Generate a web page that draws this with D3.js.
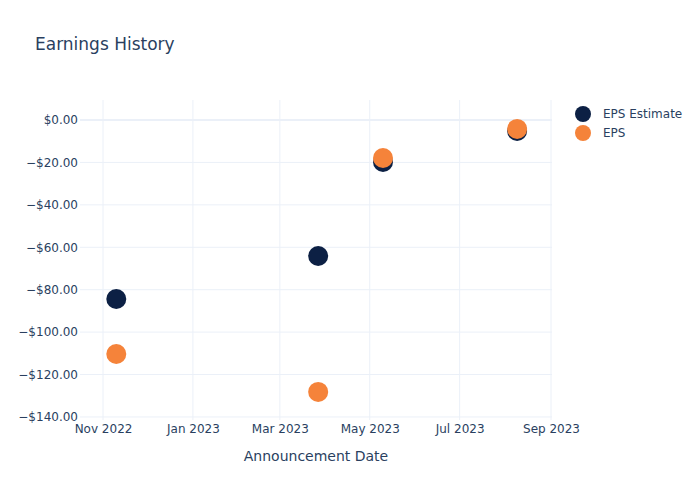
<!DOCTYPE html>
<html>
<head>
<meta charset="utf-8">
<script src="https://cdn.jsdelivr.net/npm/d3@7"></script>
<style>
  body { margin: 0; background: #fff; }
  text { font-family: "DejaVu Sans", Verdana, sans-serif; fill: #2a3f5f; }
</style>
</head>
<body>
<svg id="chart" width="700" height="500"></svg>
<script>
const dates = ["2022-11-10", "2023-03-27", "2023-05-10", "2023-08-09"];
const epsEstimate = [-84.4, -64.1, -19.8, -5.2];
const epsActual = [-110.3, -128.2, -17.9, -4.2];
const seriesNames = ["EPS Estimate", "EPS"];
const seriesColors = ["#0c2044", "#f5833a"];
const xTickLabels = ["Nov 2022", "Jan 2023", "Mar 2023", "May 2023", "Jul 2023", "Sep 2023"];
const yTicks = [0, -20, -40, -60, -80, -100, -120, -140];

(function () {
const parse = d3.timeParse("%Y-%m-%d");
const svg = d3.select("#chart");
const pLeft = 80, pRight = 551, pTop = 101, pBottom = 421;

const x = d3.scaleTime()
  .domain([new Date(2022, 9, 16, 9), parse("2023-09-01")])
  .range([pLeft, pRight]);
const y = d3.scaleLinear()
  .domain([-141.9, 8.96])
  .range([pBottom, pTop]);

const tickDates = [parse("2022-11-01"), parse("2023-01-01"), parse("2023-03-01"), parse("2023-05-01"), parse("2023-07-01"), parse("2023-09-01")];

// grid lines
const grid = svg.append("g");
grid.selectAll(".vg").data(tickDates).enter().append("line")
  .attr("x1", d => x(d)).attr("x2", d => x(d))
  .attr("y1", pTop - 1).attr("y2", pBottom - 1)
  .attr("stroke", "#ebf0f8").attr("stroke-width", 1);
grid.selectAll(".hg").data(yTicks).enter().append("line")
  .attr("x1", pLeft).attr("x2", pRight + 1)
  .attr("y1", d => y(d)).attr("y2", d => y(d))
  .attr("stroke", "#ebf0f8").attr("stroke-width", d => d === 0 ? 2 : 1);

// axes
const fmt = v => (v < 0 ? "\u2212$" : "$") + d3.format(",.2f")(Math.abs(v));
const yAxis = svg.append("g").attr("transform", `translate(${pLeft},0)`)
  .call(d3.axisLeft(y).tickValues(yTicks).tickFormat(fmt).tickSize(0).tickPadding(2));
yAxis.select(".domain").remove();
yAxis.selectAll("text").attr("font-size", 12).style("fill", "#2a3f5f")
  .attr("font-family", "DejaVu Sans, Verdana, sans-serif");

const xAxis = svg.append("g").attr("transform", `translate(0,${pBottom - 1})`)
  .call(d3.axisBottom(x).tickValues(tickDates).tickFormat((d, i) => xTickLabels[i]).tickSize(0).tickPadding(4));
xAxis.select(".domain").remove();
xAxis.selectAll("text").attr("font-size", 12).style("fill", "#2a3f5f")
  .attr("font-family", "DejaVu Sans, Verdana, sans-serif");

// points
const series = [epsEstimate, epsActual];
series.forEach((vals, si) => {
  svg.append("g").selectAll("circle").data(vals).enter().append("circle")
    .attr("cx", (d, i) => x(parse(dates[i])))
    .attr("cy", d => y(d))
    .attr("r", 10)
    .attr("fill", seriesColors[si]);
});

// title
svg.append("text").attr("x", 35).attr("y", 50).attr("font-size", 17).text("Earnings History");
// axis title
svg.append("text").attr("x", 316).attr("y", 461).attr("text-anchor", "middle")
  .attr("font-size", 14).text("Announcement Date");

// legend
const legend = svg.append("g");
seriesNames.forEach((name, i) => {
  legend.append("circle").attr("cx", 583).attr("cy", 114 + i * 19).attr("r", 8).attr("fill", seriesColors[i]);
  legend.append("text").attr("x", 603).attr("y", 118 + i * 19).attr("font-size", 12).text(name);
});
})();
</script>
</body>
</html>
